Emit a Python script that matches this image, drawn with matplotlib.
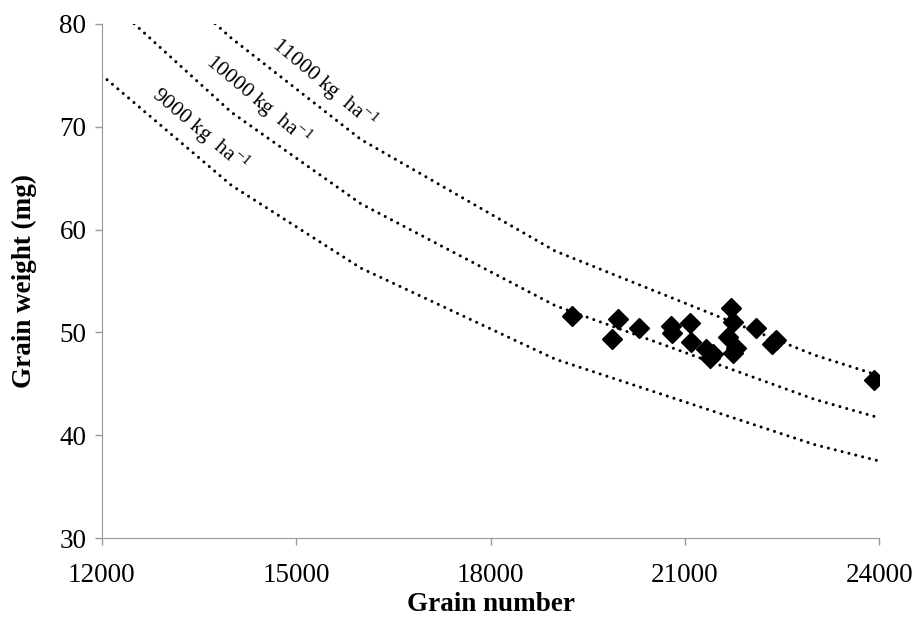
import matplotlib
matplotlib.use("Agg")
import matplotlib.pyplot as plt

plt.rcParams["font.family"] = ["Liberation Serif", "DejaVu Serif"]
plt.rcParams["mathtext.fontset"] = "custom"
plt.rcParams["mathtext.rm"] = "Liberation Serif"

# observed points (grain number, grain weight mg)
grain_number = [19260, 19970, 19880, 20290, 20790, 20805, 21075, 21100, 21330,
                21385, 21440, 21705, 21735, 21665, 21795, 21745, 22095, 22350,
                22410, 23920]
grain_weight = [51.6, 51.3, 49.4, 50.4, 50.6, 49.9, 50.9, 49.1, 48.4,
                47.5, 47.9, 52.4, 51.0, 49.6, 48.5, 48.0, 50.4, 48.9,
                49.3, 45.4]

# iso-yield dotted lines
iso_9000_x = [12000, 14000, 16000, 19000, 23000, 24000]
iso_9000_y = [75.0, 64.3, 56.25, 47.4, 39.1, 37.5]
iso_10000_x = [12500, 14000, 16000, 19000, 23000, 24000]
iso_10000_y = [80.0, 71.4, 62.5, 52.6, 43.5, 41.7]
iso_11000_x = [13750, 14000, 16000, 19000, 23000, 24000]
iso_11000_y = [80.0, 78.6, 68.75, 57.9, 47.8, 45.8]

iso_labels = ["9000 kg  ha$^{\\mathregular{-1}}$", "10000 kg  ha$^{\\mathregular{-1}}$",
              "11000 kg  ha$^{\\mathregular{-1}}$"]
label_pos = [(13520, 69.7), (14420, 72.6), (15440, 74.2)]

fig = plt.figure(figsize=(9.16, 6.23), dpi=100)
ax = fig.add_axes([0.111, 0.136, 0.849, 0.826])

dot = dict(color="black", lw=2.2, linestyle=(0, (0.01, 2.3)), dash_capstyle="round")
ax.plot(iso_9000_x, iso_9000_y, **dot)
ax.plot(iso_10000_x, iso_10000_y, **dot)
ax.plot(iso_11000_x, iso_11000_y, **dot)

for txt, (lx, ly) in zip(iso_labels, label_pos):
    ax.text(lx, ly, txt, rotation=-40, ha="center", va="center", fontsize=15.5,
            rotation_mode="anchor")

ax.plot(grain_number, grain_weight, "D", color="black", ms=10.5, zorder=3)

ax.set_xlim(12000, 24000)
ax.set_ylim(30, 80)
ax.set_xticks([12000, 15000, 18000, 21000, 24000])
ax.set_yticks([30, 40, 50, 60, 70, 80])
ax.tick_params(labelsize=19.5, color="#999999", length=5, width=1)
ax.tick_params(axis="x", pad=13)
ax.tick_params(axis="y", pad=6)
for s in ["top", "right"]:
    ax.spines[s].set_visible(False)
for s in ["left", "bottom"]:
    ax.spines[s].set_color("#999999")

ax.set_xlabel("Grain number", fontsize=19.5, fontweight="bold", labelpad=3)
ax.set_ylabel("Grain weight (mg)", fontsize=19.5, fontweight="bold", labelpad=16)

fig.savefig("out.png", dpi=100)
